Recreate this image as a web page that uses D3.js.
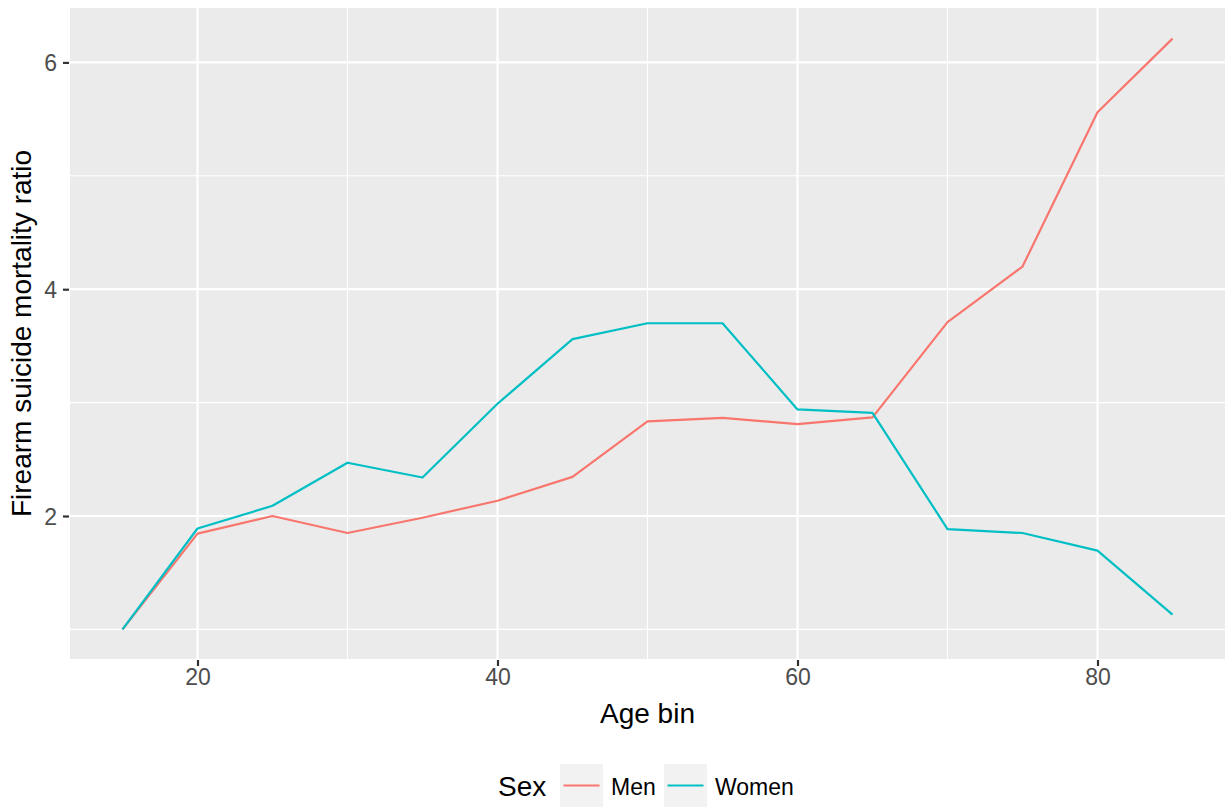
<!DOCTYPE html>
<html><head><meta charset="utf-8">
<script src="https://cdn.jsdelivr.net/npm/d3@7"></script>
<style>body{margin:0;background:#fff}svg{display:block;font-family:"Liberation Sans",Arial,Helvetica,sans-serif}</style>
</head><body><svg id="c" width="1225" height="810"></svg>
<script>
const ages = [15,20,25,30,35,40,45,50,55,60,65,70,75,80,85];
const men = [1.0,1.845,2.0,1.85,1.985,2.135,2.345,2.835,2.865,2.81,2.87,3.71,4.20,5.56,6.21];
const women = [1.0,1.89,2.09,2.47,2.34,2.99,3.56,3.70,3.70,2.94,2.91,1.885,1.85,1.695,1.13];
const seriesNames = ["Men","Women"];
const seriesColors = ["#F8766D","#00BFC4"];
const xTicks = [20,40,60,80];
const xMinor = [10,30,50,70,90];
const yTicks = [2,4,6];
const yMinor = [1,3,5];

const svg = d3.select("#c");
const L=70, R=1225, T=8, B=659;
const x = d3.scaleLinear().domain([11.5,88.5]).range([L,R]);
const y = d3.scaleLinear().domain([0.739,6.48]).range([B,T]);

svg.append("rect").attr("x",L).attr("y",T).attr("width",R-L).attr("height",B-T).attr("fill","#EBEBEB");
const g = svg.append("g");
g.selectAll(".ym").data(yMinor).join("line").attr("x1",L).attr("x2",R).attr("y1",d=>y(d)).attr("y2",d=>y(d)).attr("stroke","#fff").attr("stroke-width",1.1);
g.selectAll(".xm").data(xMinor.filter(d=>x(d)>L&&x(d)<R)).join("line").attr("y1",T).attr("y2",B).attr("x1",d=>x(d)).attr("x2",d=>x(d)).attr("stroke","#fff").attr("stroke-width",1.1);
g.selectAll(".yM").data(yTicks).join("line").attr("x1",L).attr("x2",R).attr("y1",d=>y(d)).attr("y2",d=>y(d)).attr("stroke","#fff").attr("stroke-width",2.2);
g.selectAll(".xM").data(xTicks).join("line").attr("y1",T).attr("y2",B).attr("x1",d=>x(d)).attr("x2",d=>x(d)).attr("stroke","#fff").attr("stroke-width",2.2);

const line = d3.line().x((d,i)=>x(ages[i])).y(d=>y(d));
[men,women].forEach((s,k)=>{
  svg.append("path").datum(s).attr("d",line).attr("fill","none").attr("stroke",seriesColors[k]).attr("stroke-width",2.2).attr("stroke-linejoin","round");
});

// axes
const xa = svg.append("g").attr("transform",`translate(0,${B+1})`).call(d3.axisBottom(x).tickValues(xTicks).tickFormat(d3.format("d")).tickSize(6).tickPadding(3));
const ya = svg.append("g").attr("transform",`translate(${L-1},0)`).call(d3.axisLeft(y).tickValues(yTicks).tickFormat(d3.format("d")).tickSize(6).tickPadding(6));
[xa,ya].forEach(a=>{
  a.select(".domain").remove();
  a.selectAll(".tick line").attr("stroke","#333").attr("stroke-width",2.2);
  a.selectAll(".tick text").attr("fill","#4D4D4D").style("font-size","23px").style("font-family",'"Liberation Sans",Arial,sans-serif');
});
xa.selectAll(".tick text").attr("dy","0.71em");
ya.selectAll(".tick text").attr("dy","0.36em");

svg.append("text").attr("x",(L+R)/2).attr("y",723).attr("text-anchor","middle").style("font-size","28px").attr("fill","#000").text("Age bin");
svg.append("text").attr("transform",`translate(31,${(T+B)/2}) rotate(-90)`).attr("text-anchor","middle").style("font-size","28px").attr("fill","#000").text("Firearm suicide mortality ratio");

// legend
const lg = svg.append("g");
lg.append("text").attr("x",498).attr("y",796).style("font-size","28px").text("Sex");
const keyX = [560,664], labX=[611,715];
seriesNames.forEach((n,i)=>{
  lg.append("rect").attr("x",keyX[i]).attr("y",764).attr("width",43).attr("height",43).attr("fill","#F2F2F2");
  lg.append("line").attr("x1",keyX[i]+3.5).attr("x2",keyX[i]+39.5).attr("y1",785.5).attr("y2",785.5).attr("stroke",seriesColors[i]).attr("stroke-width",2.2);
  lg.append("text").attr("x",labX[i]).attr("y",795).style("font-size","23px").text(n);
});
</script></body></html>
